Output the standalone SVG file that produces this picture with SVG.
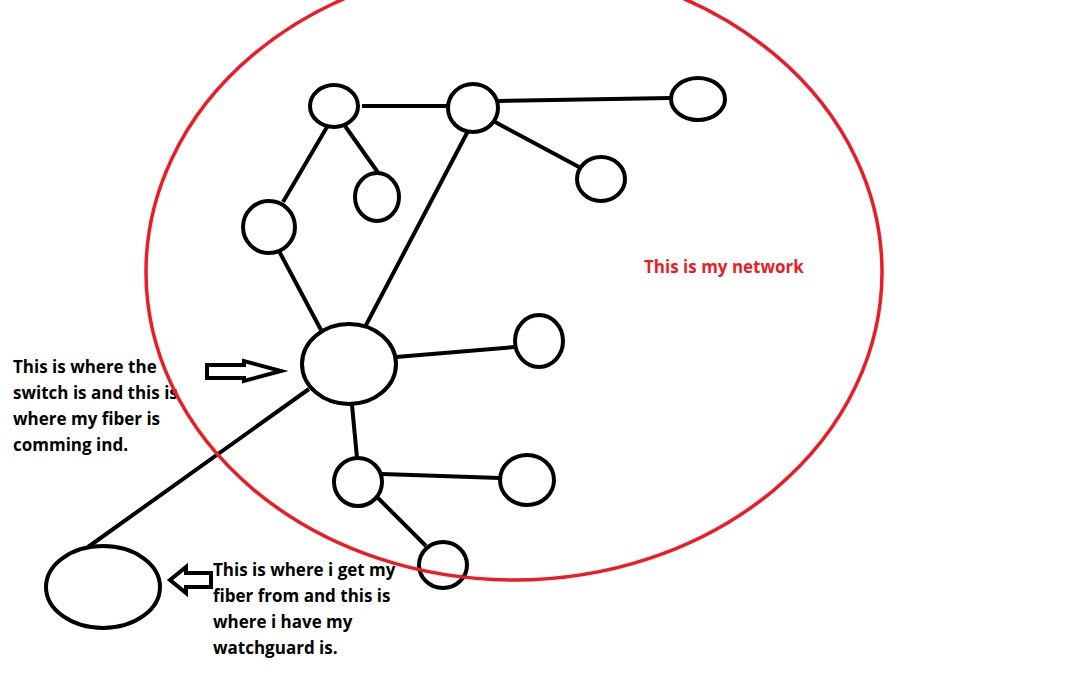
<svg xmlns="http://www.w3.org/2000/svg" width="1080" height="675" viewBox="0 0 1080 675">
<style>
.n{fill:#fff;stroke:#000;stroke-width:4}
.c line{stroke:#000;stroke-width:4;stroke-linecap:butt}
.t{font-family:"Open Sans",Lato,sans-serif;font-weight:bold;font-size:17px;fill:#000}
.ar{fill:#fff;stroke:#000;stroke-width:4;stroke-linejoin:miter}
</style>
<rect width="1080" height="675" fill="#fff"/>
<g class="c" id="connectors">
<line x1="362" y1="106" x2="448" y2="106"/>
<line x1="498" y1="101" x2="671" y2="98"/>
<line x1="495" y1="122" x2="579" y2="167"/>
<line x1="345" y1="126" x2="379" y2="174"/>
<line x1="327" y1="127" x2="283" y2="202"/>
<line x1="279" y1="251" x2="321" y2="330"/>
<line x1="468" y1="131" x2="365" y2="327"/>
<line x1="396" y1="357" x2="515" y2="347"/>
<line x1="352" y1="405" x2="357" y2="458"/>
<line x1="382" y1="474" x2="500" y2="478"/>
<line x1="376" y1="496" x2="426" y2="546"/>
<line x1="309" y1="389" x2="88" y2="547"/>
</g>
<g id="nA"><ellipse class="n" cx="334" cy="106" rx="24" ry="21"/></g>
<g id="nB"><ellipse class="n" cx="473" cy="108" rx="25" ry="24"/></g>
<g id="nC"><ellipse class="n" cx="698" cy="99" rx="27" ry="21"/></g>
<g id="nD"><ellipse class="n" cx="601" cy="179" rx="24" ry="22"/></g>
<g id="nE"><ellipse class="n" cx="377" cy="197" rx="22" ry="24"/></g>
<g id="nF"><ellipse class="n" cx="269" cy="227" rx="26" ry="26"/></g>
<g id="switch"><ellipse class="n" cx="349" cy="364" rx="47" ry="40"/></g>
<g id="nG"><ellipse class="n" cx="539" cy="341" rx="24" ry="26"/></g>
<g id="nH"><ellipse class="n" cx="358" cy="482" rx="24" ry="24"/></g>
<g id="nI"><ellipse class="n" cx="527" cy="480" rx="27" ry="25"/></g>
<g id="nJ"><ellipse class="n" cx="443" cy="565" rx="24" ry="23"/></g>
<g id="watchguard"><ellipse class="n" cx="103" cy="587" rx="57" ry="41"/></g>
<g id="arrow-right"><polygon class="ar" points="207,365 244,365 244,361 281,371 244,381 244,378 207,378"/></g>
<g id="arrow-left"><polygon class="ar" points="170,580 186,567 186,573 211,573 211,587 186,587 186,593"/></g>
<g id="label-switch">
<text class="t" x="13" y="373">This is where the</text>
<text class="t" x="13" y="399">switch is and this is</text>
<text class="t" x="13" y="425">where my fiber is</text>
<text class="t" x="13" y="451">comming ind.</text>
</g>
<g id="network">
<ellipse cx="514" cy="272" rx="368" ry="308" fill="none" stroke="#ed1c24" stroke-width="3.5"/>
<text x="644" y="273" font-family="'Open Sans',Lato,sans-serif" font-weight="bold" font-size="17" fill="#ed1c24">This is my network</text>
</g>
<g id="label-watchguard">
<text class="t" x="213" y="576">This is where i get my</text>
<text class="t" x="213" y="602">fiber from and this is</text>
<text class="t" x="213" y="628">where i have my</text>
<text class="t" x="213" y="654">watchguard is.</text>
</g>
</svg>
